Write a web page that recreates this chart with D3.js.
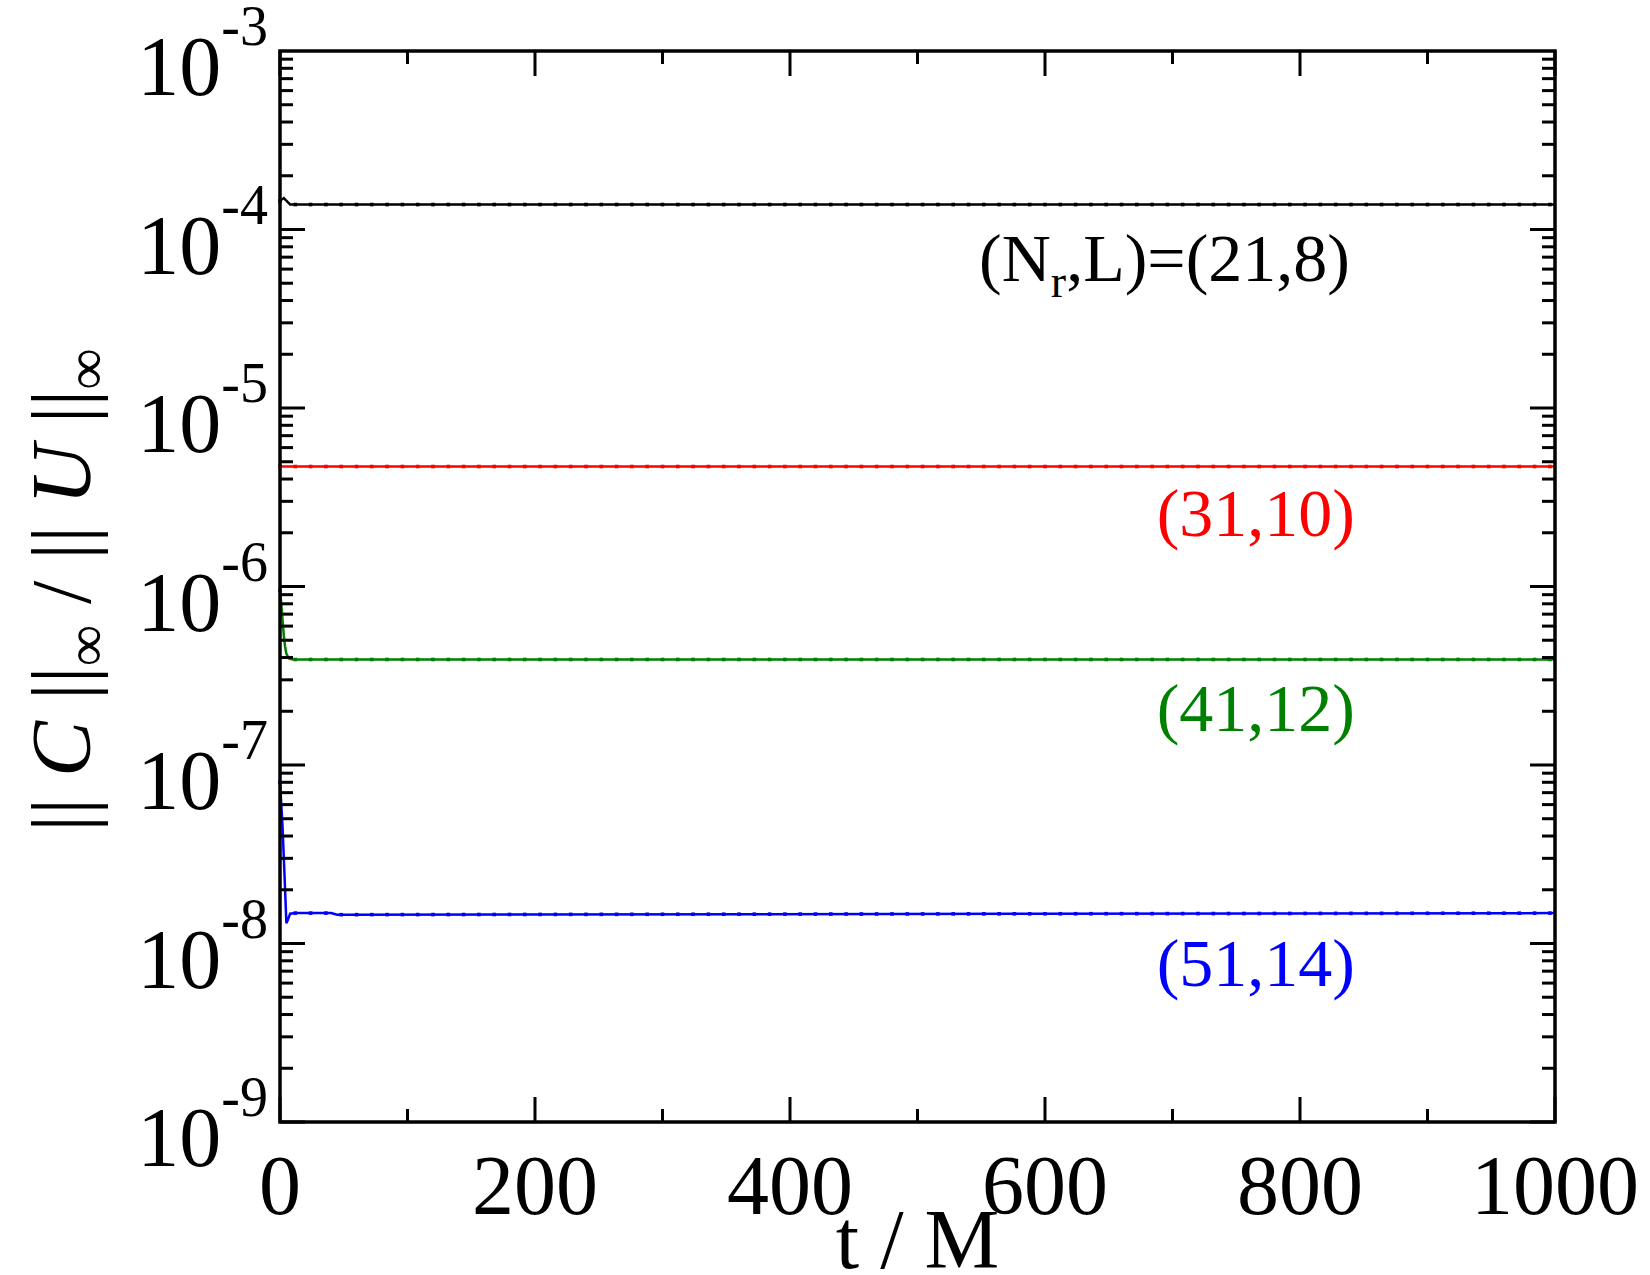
<!DOCTYPE html><html><head><meta charset="utf-8">
<script src="https://cdn.jsdelivr.net/npm/d3@7"></script>
<style>body{margin:0;background:#fff}text{font-family:"Liberation Serif",serif}</style></head><body>
<script>
const tBlack=[0,3,8,1000], vBlack=[1.45e-4,1.5e-4,1.38e-4,1.38e-4];
const tRed=[0,1000], vRed=[4.7e-6,4.7e-6];
const tGreen=[0,1,2,3,4,5,7,10,1000], vGreen=[9.5e-7,8e-7,6.5e-7,5.3e-7,4.6e-7,4.2e-7,3.95e-7,3.9e-7,3.9e-7];
const tBlue=[0,1,2,3,4,5,6,8,12,40,45,1000], vBlue=[8e-8,6e-8,4.5e-8,3e-8,2e-8,1.3e-8,1.35e-8,1.47e-8,1.48e-8,1.48e-8,1.45e-8,1.48e-8];
const xTicks=[0,200,400,600,800,1000];
const yExp=[-3,-4,-5,-6,-7,-8,-9];
const labels=[{t:"(21,8)",c:"#000",y:1.0e-4*0.7},{t:"(31,10)",c:"#f00",y:2.6e-6},{t:"(41,12)",c:"#008000",y:2.1e-7},{t:"(51,14)",c:"#00f",y:7.9e-9}];
const W=1650,H=1275,L=280,R=1555,T=51,B=1122;
const svg=d3.select("body").append("svg").attr("width",W).attr("height",H);
const x=d3.scaleLinear().domain([0,1000]).range([L,R]);
const y=d3.scaleLog().domain([1e-9,1e-3]).range([B,T]);
const series=[[tBlack,vBlack,"#000"],[tRed,vRed,"#f00"],[tGreen,vGreen,"#008000"],[tBlue,vBlue,"#00f"]];
series.forEach(([ts,vs,c])=>{
 const d=ts.map((t,i)=>[t,vs[i]]);
 svg.append("path").datum(d).attr("d",d3.line().x(p=>x(p[0])).y(p=>y(p[1]))).attr("fill","none").attr("stroke",c).attr("stroke-width",2.5);
 const dots=[];for(let t=0;t<=1000;t+=12){let v=d3.scaleLinear().domain(ts).range(vs)(t);dots.push([t,v]);}
 svg.selectAll(null).data(dots).enter().append("rect").attr("x",p=>x(p[0])-1.8).attr("y",p=>y(p[1])-1.8).attr("width",3.6).attr("height",3.6).attr("fill",c);
});
const g=svg.append("g").attr("stroke","#000").attr("stroke-width",3);
svg.append("rect").attr("x",L).attr("y",T).attr("width",R-L).attr("height",B-T).attr("fill","none").attr("stroke","#000").attr("stroke-width",3.5);
d3.range(0,1001,100).forEach(t=>{const len=t%200===0?25:13;
 g.append("line").attr("x1",x(t)).attr("x2",x(t)).attr("y1",B).attr("y2",B-len);
 g.append("line").attr("x1",x(t)).attr("x2",x(t)).attr("y1",T).attr("y2",T+len);});
xTicks.forEach(t=>svg.append("text").attr("x",x(t)).attr("y",B+92).attr("text-anchor","middle").attr("font-size",84).text(t));
for(let e=-9;e<-3;e++){for(let m=1;m<10;m++){const v=m*Math.pow(10,e);const len=m===1?25:13;
 g.append("line").attr("x1",L).attr("x2",L+len).attr("y1",y(v)).attr("y2",y(v));
 g.append("line").attr("x1",R).attr("x2",R-len).attr("y1",y(v)).attr("y2",y(v));}}
yExp.forEach(e=>{const t=svg.append("text").attr("x",268).attr("y",y(Math.pow(10,e))+44).attr("text-anchor","end").attr("font-size",84);
 t.append("tspan").text("10");t.append("tspan").attr("font-size",56).attr("dy",-50).text(e);});
svg.append("text").attr("x",x(500)).attr("y",1268).attr("text-anchor","middle").attr("font-size",84).text("t / M");
const yl=svg.append("text").attr("transform","translate(90,590) rotate(-90)").attr("text-anchor","middle").attr("font-size",84);
yl.append("tspan").text("|| ");yl.append("tspan").attr("font-style","italic").text("C");yl.append("tspan").text(" ||");
yl.append("tspan").attr("font-size",58).attr("dy",16).text("∞");yl.append("tspan").attr("dy",-16).text(" / ||  ");
yl.append("tspan").attr("font-style","italic").text("U");yl.append("tspan").text(" ||");yl.append("tspan").attr("font-size",58).attr("dy",16).text("∞");
const a0=svg.append("text").attr("x",1350).attr("y",y(labels[0].y)+24).attr("text-anchor","end").attr("font-size",68);
a0.append("tspan").text("(N");a0.append("tspan").attr("font-size",46).attr("dy",16).text("r");a0.append("tspan").attr("dy",-16).text(",L)=(21,8)");
labels.slice(1).forEach(l=>svg.append("text").attr("x",1355).attr("y",y(l.y)+24).attr("text-anchor","end").attr("font-size",68).attr("fill",l.c).text(l.t));
</script></body></html>
